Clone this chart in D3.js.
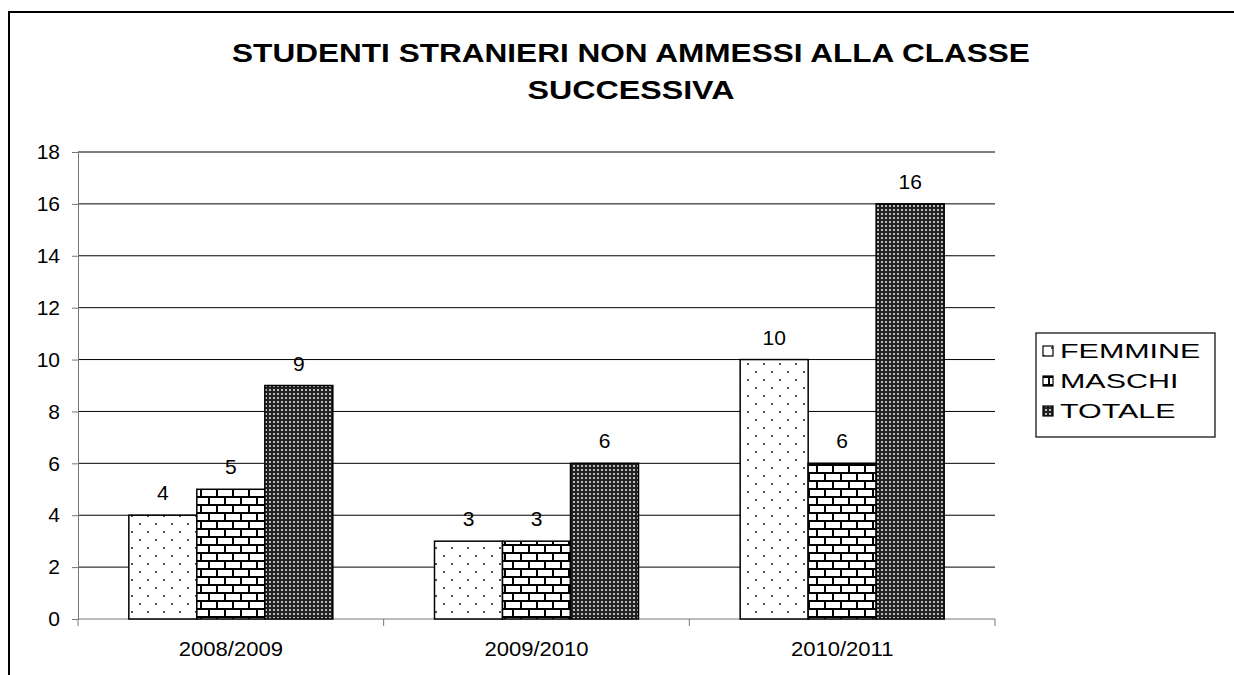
<!DOCTYPE html>
<html><head><meta charset="utf-8">
<script src="https://cdn.jsdelivr.net/npm/d3@7"></script>
<style>body{margin:0;background:#fff}svg{display:block}text{font-family:"Liberation Sans",Arial,sans-serif}</style>
</head><body><svg id="c" width="1234" height="675"></svg>
<script>
const categories = ["2008/2009","2009/2010","2010/2011"];
const series = ["FEMMINE","MASCHI","TOTALE"];
const femmine = [4,3,10];
const maschi = [5,3,6];
const totale = [9,6,16];
const yTicks = [0,2,4,6,8,10,12,14,16,18];
const titleLines = ["STUDENTI STRANIERI NON AMMESSI ALLA CLASSE","SUCCESSIVA"];

(function(){
const values = [femmine, maschi, totale];
const svg = d3.select("#c");
const defs = svg.append("defs");

function stretch(sel, sx){
  sel.each(function(){
    const t = d3.select(this);
    const ax = +t.attr("x") || 0;
    t.attr("transform", `translate(${ax},0) scale(${sx},1) translate(${-ax},0)`);
  });
}
function fitWidth(sel, w){
  sel.each(function(){
    const t = d3.select(this);
    const nat = this.getComputedTextLength();
    const ax = +t.attr("x") || 0;
    t.attr("transform", `translate(${ax},0) scale(${w/nat},1) translate(${-ax},0)`);
  });
}

const pDots = defs.append("pattern").attr("id","pDots").attr("patternUnits","userSpaceOnUse").attr("width",16).attr("height",16);
pDots.append("rect").attr("width",16).attr("height",16).attr("fill","#fff");
pDots.append("rect").attr("x",3).attr("y",3).attr("width",2).attr("height",2).attr("fill","#555");
pDots.append("rect").attr("x",11).attr("y",11).attr("width",2).attr("height",2).attr("fill","#555");

const pBrick = defs.append("pattern").attr("id","pBrick").attr("patternUnits","userSpaceOnUse").attr("width",16).attr("height",16);
pBrick.append("rect").attr("width",16).attr("height",16).attr("fill","#fff");
pBrick.append("rect").attr("x",0).attr("y",0).attr("width",16).attr("height",2).attr("fill","#000");
pBrick.append("rect").attr("x",0).attr("y",8).attr("width",16).attr("height",2).attr("fill","#000");
pBrick.append("rect").attr("x",0).attr("y",0).attr("width",2).attr("height",8).attr("fill","#000");
pBrick.append("rect").attr("x",8).attr("y",8).attr("width",2).attr("height",8).attr("fill","#000");

const pGrid = defs.append("pattern").attr("id","pGrid").attr("patternUnits","userSpaceOnUse").attr("width",4).attr("height",4);
pGrid.append("rect").attr("width",4).attr("height",4).attr("fill","#222");
pGrid.append("rect").attr("x",1).attr("y",1).attr("width",2).attr("height",2).attr("fill","#bbb");

const fills = ["url(#pDots)","url(#pBrick)","url(#pGrid)"];

svg.append("path").attr("d","M9,675 V12 H1234").attr("fill","none").attr("stroke","#000").attr("stroke-width",2);

const t1 = svg.append("text").attr("x",631).attr("y",62).attr("text-anchor","middle")
  .attr("font-size",25).attr("font-weight","bold").text(titleLines[0]);
const t2 = svg.append("text").attr("x",631).attr("y",99).attr("text-anchor","middle")
  .attr("font-size",25).attr("font-weight","bold").text(titleLines[1]);
fitWidth(t1, 798);
fitWidth(t2, 207);

const pL=78,pR=995,pT=152,pB=619;
const y = d3.scaleLinear().domain([0,18]).range([pB,pT]);
const x0 = d3.scaleBand().domain(categories).range([pL,pR]).paddingInner(0).paddingOuter(0);
const x1 = d3.scaleBand().domain(series).range([0,204]);

svg.append("g").selectAll("line").data(yTicks.filter(d=>d>0)).join("line")
  .attr("x1",pL).attr("x2",pR).attr("y1",d=>y(d)).attr("y2",d=>y(d))
  .attr("stroke","#000").attr("stroke-width",1);

const ya = svg.append("g").attr("transform",`translate(${pL},0)`)
  .call(d3.axisLeft(y).tickValues(yTicks).tickSize(6).tickPadding(12));
ya.select(".domain").attr("stroke","#777");
ya.selectAll(".tick line").attr("stroke","#777");
ya.selectAll(".tick text").attr("font-size",21).attr("font-family","Liberation Sans, Arial").attr("fill","#000");

svg.append("line").attr("x1",pL).attr("x2",pR).attr("y1",pB).attr("y2",pB).attr("stroke","#777");
const bounds = [0,1,2,3].map(i=> pL + i*x0.step());
svg.append("g").selectAll("line").data(bounds).join("line")
  .attr("x1",d=>d).attr("x2",d=>d).attr("y1",pB).attr("y2",pB+7).attr("stroke","#777");
const xl = svg.append("g").selectAll("text").data(categories).join("text")
  .attr("x",d=>x0(d)+x0.bandwidth()/2).attr("y",656).attr("text-anchor","middle")
  .attr("font-size",21).text(d=>d);
stretch(xl, 1.05);

const groupOffset = (x0.bandwidth()-204)/2;
series.forEach((s,si)=>{
  const g = svg.append("g");
  g.selectAll("rect").data(categories).join("rect")
    .attr("x",d=>x0(d)+groupOffset+x1(s))
    .attr("y",(d,i)=>y(values[si][i]))
    .attr("width",x1.bandwidth())
    .attr("height",(d,i)=>pB-y(values[si][i]))
    .attr("fill",fills[si]).attr("stroke","#000").attr("stroke-width",1.5);
  g.selectAll("text").data(categories).join("text")
    .attr("x",d=>x0(d)+groupOffset+x1(s)+x1.bandwidth()/2)
    .attr("y",(d,i)=>y(values[si][i])-15)
    .attr("text-anchor","middle").attr("font-size",21).text((d,i)=>values[si][i]);
});

const lg = svg.append("g");
lg.append("rect").attr("x",1036).attr("y",333).attr("width",179).attr("height",104)
  .attr("fill","#fff").attr("stroke","#000").attr("stroke-width",1.2);
series.forEach((s,i)=>{
  const yy = 351 + i*30;
  lg.append("rect").attr("x",1043).attr("y",yy-5).attr("width",10).attr("height",10)
    .attr("fill",fills[i]).attr("stroke","#000").attr("stroke-width",1.2);
  const t = lg.append("text").attr("x",1060).attr("y",yy+7).attr("font-size",21).text(s);
  stretch(t, 1.45);
});
})();
</script></body></html>
